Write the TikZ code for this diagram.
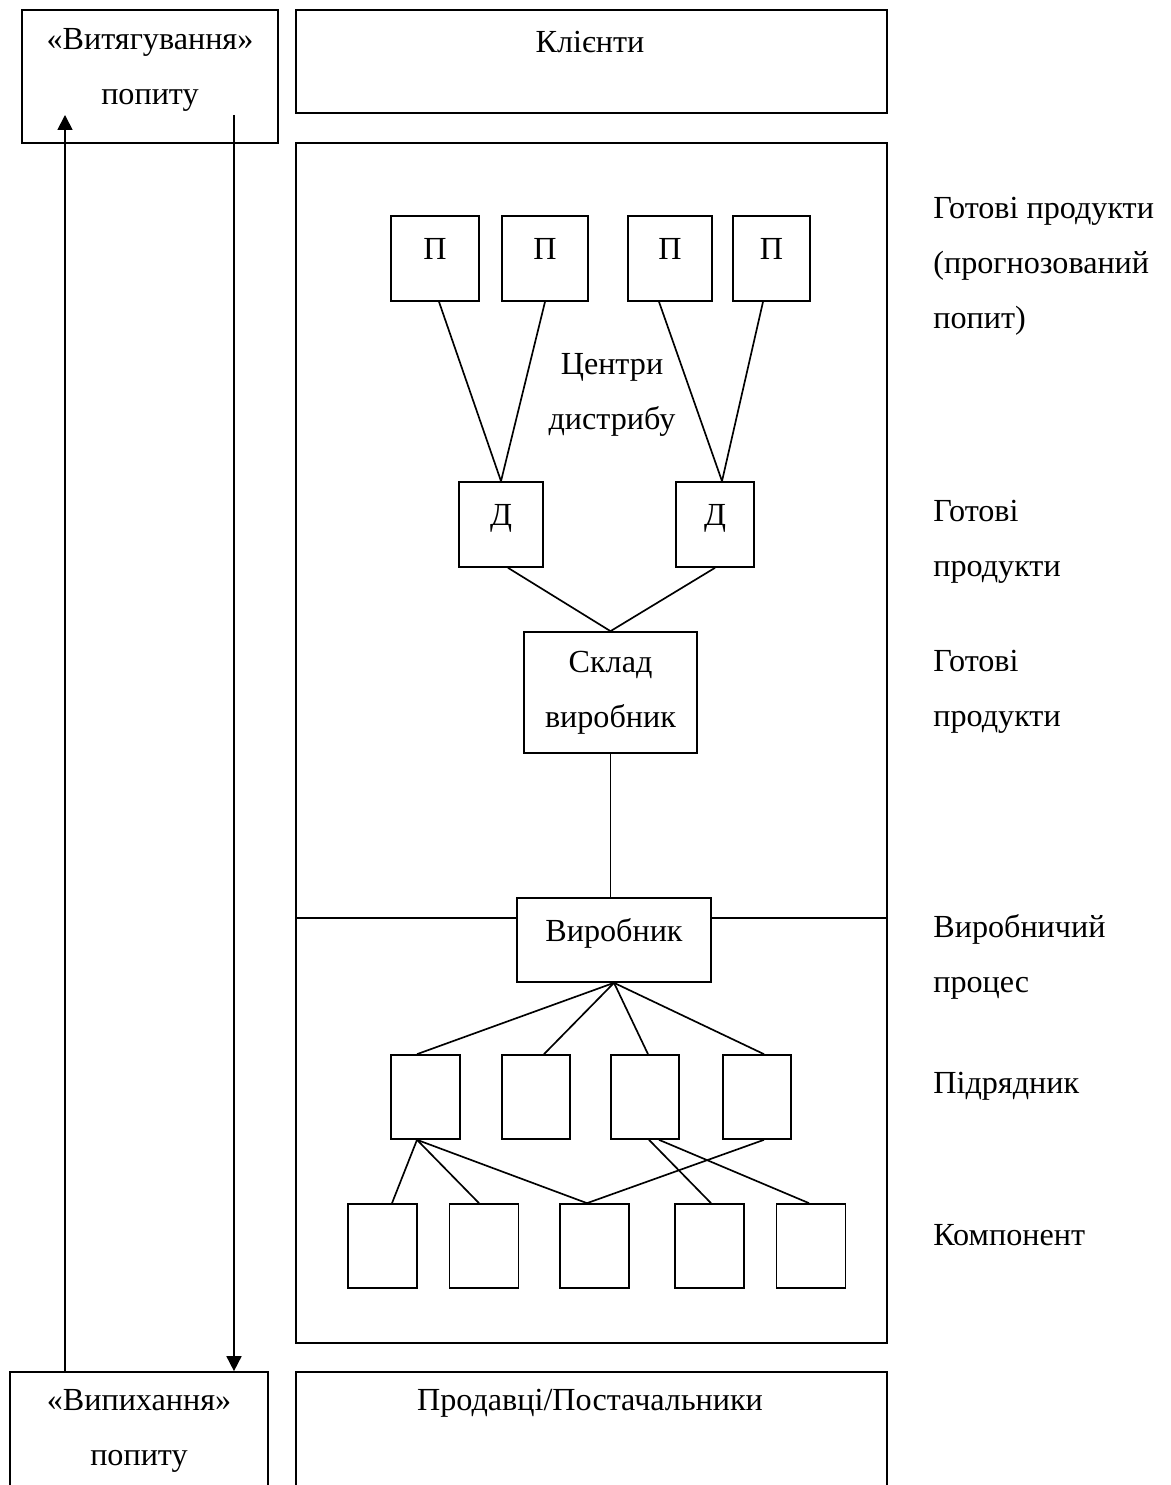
\documentclass[tikz,border=0pt]{standalone}
\usepackage{fontspec}
\setmainfont{Liberation Serif}
\usetikzlibrary{arrows, arrows.meta}

\begin{document}
\begin{tikzpicture}[
  every node/.style={font=\fontsize{18.3}{31.3}\selectfont, inner sep=0pt},
  box/.style={draw, line width=0.95pt, minimum height=1.68cm},
  boxtop/.style={box, text depth=0.4cm},
  txt/.style={align=center},
  side/.style={align=left, anchor=west},
  con/.style={line width=0.95pt}]
\useasboundingbox (0,0) rectangle (23.4,29.7);
%\draw[step=1cm,gray,very thin] (0,0) grid (23.4,29.7); %background grid
%---------------------------------------------------
\node[box, minimum width=5.12cm, minimum height=2.66cm] (pull) at (3.00,28.17) {};
\node[txt] (pulltxt) at (3.00,28.31) {«Витягування»\\попиту};
\node[box, minimum width=11.82cm, minimum height=2.06cm] (clients) at (11.83,28.47) {};
\node[txt] (clientstxt) at (11.80,28.86) {Клієнти};
\node[box, minimum width=11.82cm, minimum height=24cm] (frame) at (11.83,14.84) {};
\node[box, txt, minimum width=5.16cm, minimum height=2.36cm] (push) at (2.78,1.08) {«Випихання»\\попиту};
\node[box, minimum width=11.82cm, minimum height=2.36cm] (suppl) at (11.83,1.08) {};
\node[txt] (suppltxt) at (11.80,1.64) {Продавці/Постачальники};
%---------------------------------------------------
\coordinate (up) at (1.30,27.40);
\coordinate (down) at (4.68,27.40);
\draw[con, -{Triangle[length=0.3cm, width=0.3cm]}] (push.north -| up) -- (up);
\draw[con, -{Triangle[length=0.3cm, width=0.3cm]}] (down) -- (push.north -| down);
%---------------------------------------------------
\node[boxtop, minimum width=1.76cm, minimum height=1.70cm] (p1) at (8.70,24.53) {П};
\node[boxtop, minimum width=1.72cm, minimum height=1.70cm] (p2) at (10.90,24.53) {П};
\node[boxtop, minimum width=1.68cm, minimum height=1.70cm] (p3) at (13.40,24.53) {П};
\node[boxtop, minimum width=1.54cm, minimum height=1.70cm] (p4) at (15.43,24.53) {П};
\node[txt] (centr) at (12.24,21.80) {Центри\\дистрибу};
\node[boxtop, minimum width=1.68cm, minimum height=1.70cm] (d1) at (10.02,19.21) {Д};
\node[boxtop, minimum width=1.56cm, minimum height=1.70cm] (d2) at (14.30,19.21) {Д};
\node[box, txt, minimum width=3.46cm, minimum height=2.42cm] (sklad) at (12.21,15.85) {Склад\\виробник};
\node[boxtop, minimum width=3.88cm] (virob) at (12.28,10.90) {Виробник};
%---------------------------------------------------
\node[box, minimum width=1.38cm] (s1) at (8.51,7.76) {};
\node[box, minimum width=1.36cm] (s2) at (10.72,7.76) {};
\node[box, minimum width=1.36cm] (s3) at (12.90,7.76) {};
\node[box, minimum width=1.36cm] (s4) at (15.14,7.76) {};
\node[box, minimum width=1.38cm] (c1) at (7.65,4.78) {};
\node[box, minimum width=1.38cm] (c2) at (9.68,4.78) {};
\node[box, minimum width=1.38cm] (c3) at (11.89,4.78) {};
\node[box, minimum width=1.38cm] (c4) at (14.19,4.78) {};
\node[box, minimum width=1.38cm] (c5) at (16.22,4.78) {};
%---------------------------------------------------
\draw[con] ([xshift=0.08cm]p1.south) -- (d1.north);
\draw[con] (p2.south) -- (d1.north);
\draw[con] ([xshift=-0.22cm]p3.south) -- ([xshift=0.14cm]d2.north);
\draw[con] ([xshift=-0.17cm]p4.south) -- ([xshift=0.14cm]d2.north);
\draw[con] ([xshift=0.14cm]d1.south) -- (sklad.north);
\draw[con] (d2.south) -- (sklad.north);
\draw[con] (sklad.south) -- (sklad.south |- virob.north);
\coordinate (hl) at (0,11.34);
\draw[con] (frame.west |- hl) -- (virob.west |- hl);
\draw[con] (virob.east |- hl) -- (frame.east |- hl);
\draw[con] (virob.south) -- ([xshift=-0.17cm]s1.north);
\draw[con] (virob.south) -- ([xshift=0.16cm]s2.north);
\draw[con] (virob.south) -- ([xshift=0.06cm]s3.north);
\draw[con] (virob.south) -- ([xshift=0.14cm]s4.north);
\draw[con] ([xshift=-0.17cm]s1.south) -- ([xshift=0.19cm]c1.north);
\draw[con] ([xshift=-0.17cm]s1.south) -- ([xshift=-0.10cm]c2.north);
\draw[con] ([xshift=-0.17cm]s1.south) -- ([xshift=-0.15cm]c3.north);
\draw[con] ([xshift=0.14cm]s4.south) -- ([xshift=-0.15cm]c3.north);
\draw[con] ([xshift=0.08cm]s3.south) -- ([xshift=0.03cm]c4.north);
\draw[con] ([xshift=0.28cm]s3.south) -- ([xshift=-0.04cm]c5.north);
%---------------------------------------------------
\node[side] (lbl1) at (18.66,24.38) {Готові продукти\\(прогнозований\\попит)};
\node[side] (lbl2) at (18.66,18.87) {Готові\\продукти};
\node[side] (lbl3) at (18.66,15.86) {Готові\\продукти};
\node[side] (lbl4) at (18.66,10.57) {Виробничий\\процес};
\node[side] (lbl5) at (18.66,7.98) {Підрядник};
\node[side] (lbl6) at (18.66,5.00) {Компонент};
\end{tikzpicture}
\end{document}
